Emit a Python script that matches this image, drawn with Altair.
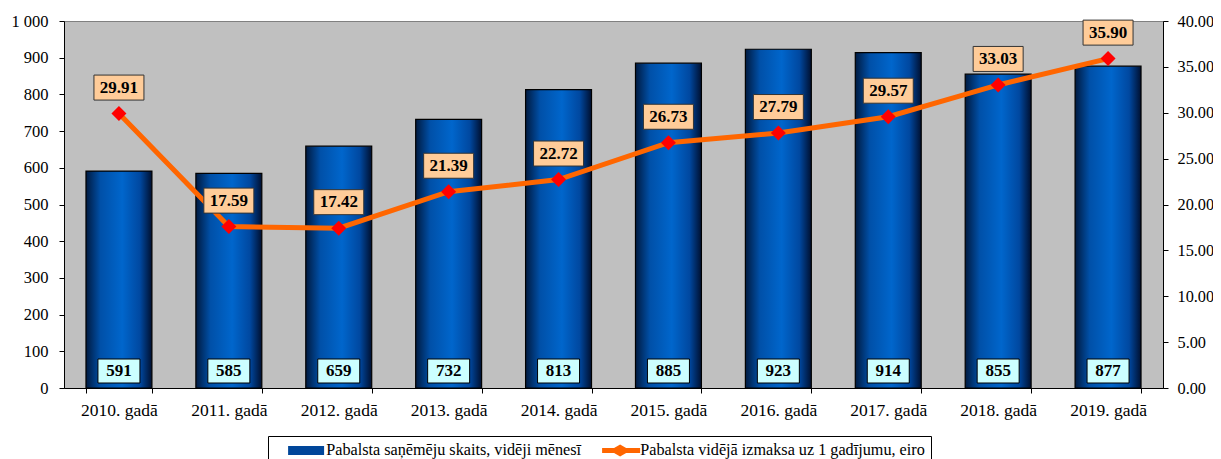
import altair as alt
import pandas as pd

years = ["2010. gadā", "2011. gadā", "2012. gadā", "2013. gadā", "2014. gadā",
         "2015. gadā", "2016. gadā", "2017. gadā", "2018. gadā", "2019. gadā"]
recipients = [591, 585, 659, 732, 813, 885, 923, 914, 855, 877]
avg_payment = [29.91, 17.59, 17.42, 21.39, 22.72, 26.73, 27.79, 29.57, 33.03, 35.90]
series_names = ["Pabalsta saņēmēju skaits, vidēji mēnesī",
                "Pabalsta vidējā izmaksa uz 1 gadījumu, eiro"]
left_ticks = [0, 100, 200, 300, 400, 500, 600, 700, 800, 900, 1000]
right_ticks = [0, 5, 10, 15, 20, 25, 30, 35, 40]
title_text = "dinamika"

df = pd.DataFrame({"year": years, "recipients": recipients, "avg": avg_payment})
df["avg_label"] = [f"{v:.2f}" for v in avg_payment]
legend_df = pd.DataFrame({"series": series_names, "year": years[:2]})

W, H = 1099, 367
FONT = "Liberation Serif"

x_enc = alt.X("year:N", sort=years,
              scale=alt.Scale(paddingInner=0.4, paddingOuter=0.2),
              axis=alt.Axis(title=None, labelAngle=0, tickBand="extent",
                            tickSize=5, labelPadding=8, labelFontSize=17.5))

bar_grad = alt.Gradient(
    gradient="linear", x1=0, x2=1, y1=0, y2=0,
    stops=[alt.GradientStop(color="#001a40", offset=0),
           alt.GradientStop(color="#0050a8", offset=0.22),
           alt.GradientStop(color="#0066cc", offset=0.55),
           alt.GradientStop(color="#0048a0", offset=0.82),
           alt.GradientStop(color="#001030", offset=1)])

left_axis = alt.Axis(title=None, values=left_ticks, tickSize=5, labelPadding=11,
                     labelOverlap=False, labelFontSize=16.5,
                     labelExpr="datum.value == 1000 ? '1 000' : datum.label")
left_scale = alt.Scale(domain=[0, 1000])
y_left = alt.Y("recipients:Q", scale=left_scale, axis=left_axis)
y_zero = alt.YDatum(0, scale=left_scale, axis=left_axis)

base = alt.Chart(df)

bars = base.mark_bar(color=bar_grad, stroke="black", strokeWidth=1.2).encode(
    x=x_enc, y=y_left)

bar_box = base.mark_point(shape="M-0.84,-0.48H0.84V0.48H-0.84Z", size=2500, filled=True,
                          fill="#ccffff", stroke="black", strokeWidth=1, opacity=1,
                          yOffset=-17).encode(x=x_enc, y=y_zero)
bar_text = base.mark_text(font=FONT, fontSize=17, fontWeight="bold", color="black",
                          baseline="middle", yOffset=-17).encode(
    x=x_enc, y=y_zero, text="recipients:Q")

rect_path = "M0.857,-0.64H6V0.64H0.857Z"
line_path = ("M0.857,-0.36H2.57L3.43,-0.86L4.29,-0.36H6.29V0.36H4.29L3.43,0.86"
             "L2.57,0.36H0.857Z")
leg = alt.Legend(orient="none", legendX=204, legendY=415, direction="horizontal",
                 title=None, strokeColor="black", fillColor="white", padding=6,
                 labelFont=FONT, labelFontSize=16.2, labelColor="black", labelLimit=600,
                 symbolOpacity=1, symbolSize=196, labelOffset=36, columnPadding=6,
                 symbolStrokeWidth=0)
legend_layer = alt.Chart(legend_df).mark_point(filled=True, opacity=0).encode(
    x=x_enc, y=y_zero,
    color=alt.Color("series:N", sort=series_names,
                    scale=alt.Scale(domain=series_names, range=["#00469a", "#ff6600"]),
                    legend=leg),
    shape=alt.Shape("series:N", sort=series_names,
                    scale=alt.Scale(domain=series_names, range=[rect_path, line_path]),
                    legend=leg))

left = alt.layer(bars, bar_box, bar_text, legend_layer)

right_axis = alt.Axis(title=None, orient="right", values=right_ticks, format=".2f",
                      tickSize=5, labelPadding=9, labelOverlap=False, labelFontSize=16.3)
y_right = alt.Y("avg:Q", scale=alt.Scale(domain=[0, 40]), axis=right_axis)

line = base.mark_line(color="#ff6600", strokeWidth=5).encode(x=x_enc, y=y_right)
pts = base.mark_point(shape="diamond", size=225, filled=True, color="#ff0000",
                      opacity=1).encode(x=x_enc, y=y_right)
avg_box = base.mark_point(shape="M-1,-0.5H1V0.5H-1Z", size=2500, filled=True,
                          fill="#ffcc99", stroke="#333333", strokeWidth=1, opacity=1,
                          yOffset=-26).encode(x=x_enc, y=y_right)
avg_text = base.mark_text(font=FONT, fontSize=17, fontWeight="bold", color="black",
                          baseline="middle", yOffset=-26).encode(
    x=x_enc, y=y_right, text="avg_label:N")

right = alt.layer(line, pts, avg_box, avg_text)

chart = alt.layer(left, right).resolve_scale(y="independent").properties(
    width=W, height=H,
    title=alt.TitleParams(text=title_text, font=FONT, fontSize=28, fontWeight="bold",
                          anchor="middle", baseline="alphabetic", offset=7, dx=11,
                          color="black"),
    autosize=alt.AutoSizeParams(type="none"),
    padding={"left": 56, "top": 13, "right": 50, "bottom": 90},
).configure_view(fill="#c0c0c0", stroke="#808080", strokeWidth=1).configure_axis(
    labelFont=FONT, labelColor="black", domainColor="black",
    tickColor="black", grid=False, domainWidth=1, tickWidth=1)

chart.save("out.html", embed_options={"renderer": "svg", "actions": False})
